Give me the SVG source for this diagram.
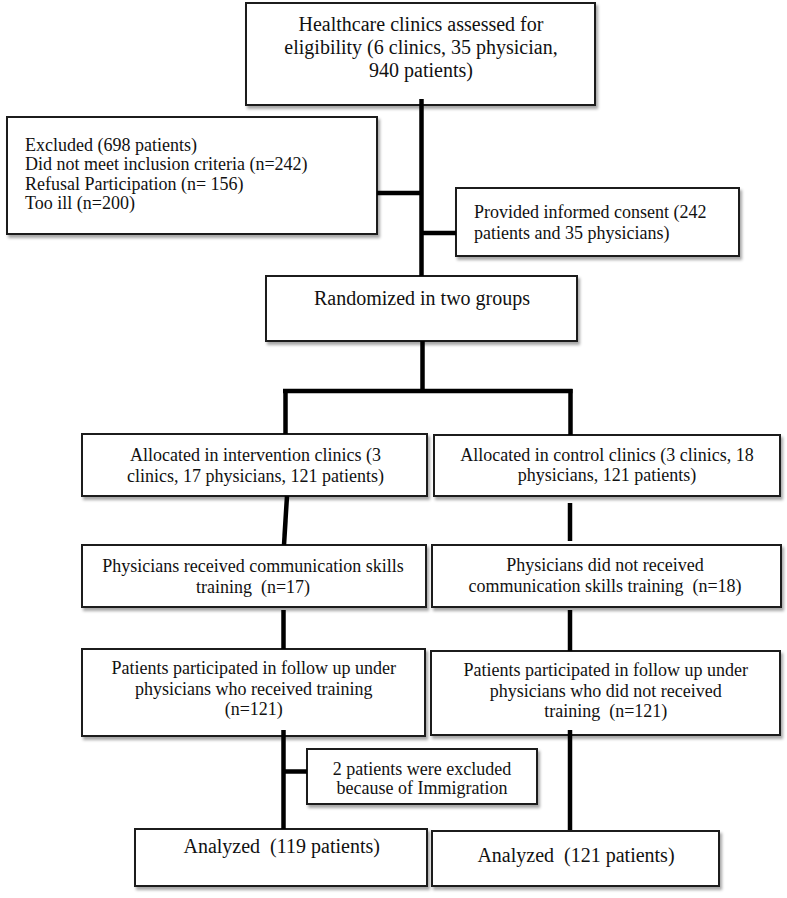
<svg xmlns="http://www.w3.org/2000/svg" width="787" height="898" viewBox="0 0 787 898">
<defs>
<filter id="sh" x="-5%" y="-10%" width="115%" height="130%">
<feDropShadow dx="2" dy="3" stdDeviation="1.6" flood-color="#000" flood-opacity="0.35"/>
</filter>
</defs>
<style>
.box{fill:#fff;stroke:#1a1a1a;stroke-width:2;filter:url(#sh)}
.t{font-family:"Liberation Serif","Times New Roman",serif;font-size:18px;fill:#111;text-anchor:middle}
.l{text-anchor:start}
.big{font-size:20px}
.c{stroke:#000;stroke-width:4.5;fill:none}
</style>
<rect width="787" height="898" fill="#fff"/>
<g id="n-assessed">
<rect class="box" x="246" y="3" width="349" height="102"/>
<text class="t big" x="421" y="31">Healthcare clinics assessed for</text>
<text class="t big" x="421" y="54">eligibility (6 clinics, 35 physician,</text>
<text class="t big" x="421" y="77">940 patients)</text>
</g>
<g id="n-excluded">
<rect class="box" x="7" y="117" width="370" height="117"/>
<text class="t l" x="25" y="150.5">Excluded (698 patients)</text>
<text class="t l" x="25" y="170">Did not meet inclusion criteria (n=242)</text>
<text class="t l" x="25" y="189.5">Refusal Participation (n= 156)</text>
<text class="t l" x="25" y="209">Too ill (n=200)</text>
</g>
<g id="n-consent">
<rect class="box" x="456" y="188" width="283" height="68"/>
<text class="t l" x="474" y="218">Provided informed consent (242</text>
<text class="t l" x="474" y="238.5">patients and 35 physicians)</text>
</g>
<g id="n-random">
<rect class="box" x="266" y="276" width="311" height="65"/>
<text class="t big" x="422" y="305">Randomized in two groups</text>
</g>
<g id="n-alloc-int">
<rect class="box" x="82" y="434" width="345" height="62"/>
<text class="t" x="255.5" y="461">Allocated in intervention clinics (3</text>
<text class="t" x="255.5" y="481.5">clinics, 17 physicians, 121 patients)</text>
</g>
<g id="n-alloc-ctl">
<rect class="box" x="434" y="435" width="346" height="61"/>
<text class="t" x="607" y="461">Allocated in control clinics (3 clinics, 18</text>
<text class="t" x="607" y="481">physicians, 121 patients)</text>
</g>
<g id="n-phys-int">
<rect class="box" x="82" y="545" width="344" height="62"/>
<text class="t" x="253" y="571.5">Physicians received communication skills</text>
<text class="t" x="253" y="593" xml:space="preserve">training  (n=17)</text>
</g>
<g id="n-phys-ctl">
<rect class="box" x="432" y="545" width="349" height="62"/>
<text class="t" x="605" y="570.5">Physicians did not received</text>
<text class="t" x="605" y="591.5" xml:space="preserve">communication skills training  (n=18)</text>
</g>
<g id="n-pat-int">
<rect class="box" x="82" y="649" width="343" height="87"/>
<text class="t" x="253.8" y="674">Patients participated in follow up under</text>
<text class="t" x="253.8" y="695">physicians who received training</text>
<text class="t" x="253.8" y="715">(n=121)</text>
</g>
<g id="n-pat-ctl">
<rect class="box" x="431" y="651" width="349" height="84"/>
<text class="t" x="605.8" y="676">Patients participated in follow up under</text>
<text class="t" x="605.8" y="697">physicians who did not received</text>
<text class="t" x="605.8" y="717" xml:space="preserve">training  (n=121)</text>
</g>
<g id="n-excl2">
<rect class="box" x="307" y="749" width="230" height="55"/>
<text class="t" x="422" y="775">2 patients were excluded</text>
<text class="t" x="422" y="794">because of Immigration</text>
</g>
<g id="n-ana-int">
<rect class="box" x="135" y="829" width="292" height="57"/>
<text class="t big" x="281.7" y="853" xml:space="preserve">Analyzed  (119 patients)</text>
</g>
<g id="n-ana-ctl">
<rect class="box" x="432" y="831" width="287" height="55"/>
<text class="t big" x="576" y="862" xml:space="preserve">Analyzed  (121 patients)</text>
</g>
<g id="connectors">
<path class="c" d="M421.5 99 V276"/>
<path class="c" d="M377 193 H421.5"/>
<path class="c" d="M421.5 233 H456"/>
<path class="c" d="M422.5 341 V391"/>
<path class="c" d="M283 391 H572.5"/>
<path class="c" d="M285.5 389 V434"/>
<path class="c" d="M570.5 389 V435"/>
<path class="c" d="M287 496 L284 545"/>
<path class="c" d="M570 503 V541"/>
<path class="c" d="M283.5 610 V649"/>
<path class="c" d="M570 610 V651"/>
<path class="c" d="M283.5 730 V829"/>
<path class="c" d="M283.5 771.5 H307"/>
<path class="c" d="M570 730 V830"/>
</g>
</svg>
